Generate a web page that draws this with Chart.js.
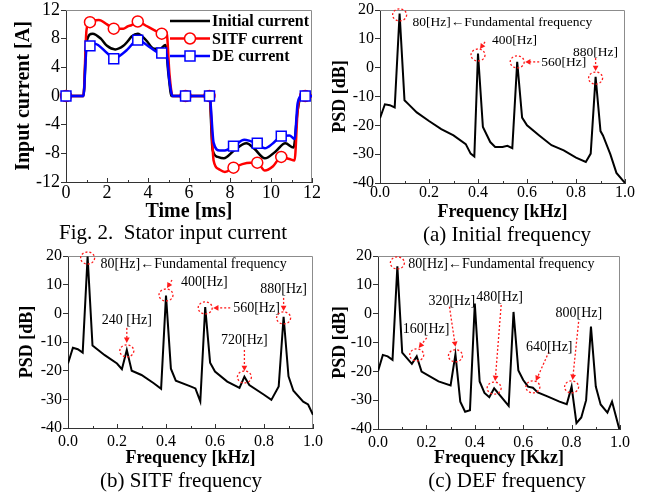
<!DOCTYPE html>
<html>
<head>
<meta charset="utf-8">
<script src="https://cdn.jsdelivr.net/npm/chart.js@4.4.0/dist/chart.umd.min.js"></script>
<style>
  body { margin: 0; background: #fff; }
  #quadro { position: relative; width: 664px; height: 492px; overflow: hidden; }
  #quadro canvas { position: absolute; }
  .legenda { position: absolute; font-family: 'Liberation Serif', 'Times New Roman', serif; font-size: 21px;
             line-height: 1; white-space: pre; color: #000; transform: translateX(-50%); }
</style>
</head>
<body>
<div id="quadro">
  <canvas id="graficoCorrente" width="330" height="222" style="left:0;top:0"></canvas>
  <canvas id="graficoInicial" width="334" height="222" style="left:330px;top:0"></canvas>
  <canvas id="graficoSitf" width="330" height="229" style="left:0;top:240px"></canvas>
  <canvas id="graficoDef" width="334" height="229" style="left:330px;top:240px"></canvas>
  <div class="legenda" style="left:173px;top:222px">Fig. 2.  Stator input current</div>
  <div class="legenda" style="left:507px;top:224px">(a) Initial frequency</div>
  <div class="legenda" style="left:181px;top:470px">(b) SITF frequency</div>
  <div class="legenda" style="left:507px;top:470px">(c) DEF frequency</div>
</div>
<script>
    // DADOS FIG. 2 (CORRENTE)

    const nomesCorrente = ['Initial current', 'SITF current', 'DE current']
    const tempoInicial = [0, 0.85, 1.0, 1.3, 1.7, 2.0, 2.4, 2.8, 3.0, 3.2, 3.5, 3.9, 4.3, 4.6, 4.85, 5.0, 5.15, 7.0, 7.15, 7.4, 7.7, 8.2, 8.8, 9.2, 9.7, 10.2, 10.7, 11.1, 11.3, 11.5, 12]
    const correnteInicial = [0, 0, 7.5, 8.7, 8.0, 7.0, 6.5, 7.0, 7.6, 8.3, 8.7, 7.8, 6.6, 6.6, 7.1, 3, 0, 0, -7.5, -8.5, -8.7, -7.6, -6.6, -7.4, -8.7, -7.8, -6.6, -7.2, -2, 0, 0]
    const tempoSitf = [0, 0.85, 1.0, 1.17, 1.6, 2.0, 2.33, 2.8, 3.0, 3.2, 3.5, 3.9, 4.3, 4.67, 4.9, 5.05, 5.2, 5.83, 7.0, 7.2, 7.45, 7.75, 8.17, 8.6, 9.0, 9.33, 9.7, 10.1, 10.5, 10.9, 11.15, 11.3, 11.5, 11.67, 12]
    const correnteSitf = [0, 0, 9.2, 10.3, 10.6, 10.0, 9.4, 9.4, 9.7, 9.9, 10.4, 9.8, 9.2, 8.7, 9.0, 3, 0, 0, 0, -9.0, -10.2, -10.6, -10.0, -9.5, -9.3, -9.3, -10.4, -9.8, -8.5, -8.8, -9.0, -2, 0, 0, 0]
    const tempoDe = [0, 0.85, 1.0, 1.17, 1.4, 2.0, 2.33, 2.8, 3.0, 3.5, 4.0, 4.4, 4.67, 4.9, 5.05, 5.2, 5.83, 7.0, 7.2, 7.5, 7.75, 8.17, 8.7, 9.0, 9.33, 9.7, 10.1, 10.5, 10.9, 11.15, 11.3, 11.5, 11.67, 12]
    const correnteDe = [0, 0, 6.5, 7.0, 7.3, 6.0, 5.2, 6.0, 6.5, 7.8, 7.0, 6.2, 6.0, 5.9, 2, 0, 0, 0, -6.5, -7.6, -7.6, -7.0, -6.1, -6.3, -6.6, -7.3, -6.6, -5.6, -5.5, -6.0, -1, 0, 0, 0]
    const tempoMarcadores = [0, 1.17, 2.33, 3.5, 4.67, 5.83, 7.0, 8.17, 9.33, 10.5, 11.67]

    // DADOS (a) INITIAL

    const freqInicial = [0, 0.02, 0.04, 0.06, 0.08, 0.10, 0.12, 0.15, 0.20, 0.25, 0.30, 0.35, 0.37, 0.385, 0.40, 0.42, 0.45, 0.47, 0.50, 0.52, 0.54, 0.56, 0.58, 0.60, 0.65, 0.70, 0.75, 0.80, 0.84, 0.86, 0.88, 0.90, 0.91, 0.94, 0.965, 0.99, 1.0]
    const psdInicial = [-17.5, -12.7, -13, -13.8, 18.8, -11.3, -13, -15.5, -18.5, -21.3, -23.5, -26.5, -29.8, -30.8, 4.9, -20.6, -25.8, -27.5, -27.5, -27.1, -27.9, 2.0, -17.3, -20, -23.5, -26.9, -28.7, -31.2, -32.7, -29.8, -3.2, -22, -23.5, -30, -36.5, -39, -40]
    const picosInicial = [0.08, 0.40, 0.56, 0.88]
    const niveisInicial = [18.3, 4.4, 2, -3.6]
    const textosInicial = ['80[Hz]\u2190Fundamental frequency', '400[Hz]', '560[Hz]', '880[Hz]']

    // DADOS (b) SITF

    const freqSitf = [0, 0.02, 0.04, 0.06, 0.08, 0.10, 0.15, 0.20, 0.22, 0.24, 0.26, 0.30, 0.35, 0.38, 0.40, 0.42, 0.44, 0.50, 0.52, 0.54, 0.56, 0.58, 0.60, 0.65, 0.70, 0.72, 0.74, 0.80, 0.83, 0.86, 0.88, 0.90, 0.92, 0.96, 0.98, 1.0]
    const psdSitf = [-17.5, -12, -12.5, -13.7, 19.8, -11.2, -14.6, -17.5, -19.5, -12.8, -20, -21.5, -24.4, -26.3, 6.2, -19.3, -23.5, -25.5, -26.2, -30.7, 2.2, -17.2, -20.3, -23.8, -26, -22.1, -25, -28.4, -30.2, -25.5, -1.2, -22, -27, -30.8, -31.8, -35.4]
    const picosSitf = [0.08, 0.24, 0.40, 0.56, 0.72, 0.88]
    const niveisSitf = [19.3, -13.1, 6.4, 1.9, -22.2, -1.6]
    const textosSitf = ['80[Hz]\u2190Fundamental frequency', '240 [Hz]', '400[Hz]', '560[Hz]', '720[Hz]', '880[Hz]']

    // DADOS (c) DEF

    const freqDef = [0, 0.02, 0.04, 0.06, 0.08, 0.10, 0.14, 0.16, 0.18, 0.25, 0.30, 0.32, 0.34, 0.36, 0.38, 0.40, 0.42, 0.44, 0.46, 0.48, 0.54, 0.56, 0.58, 0.60, 0.62, 0.64, 0.66, 0.70, 0.75, 0.78, 0.80, 0.82, 0.84, 0.86, 0.88, 0.90, 0.92, 0.948, 0.967, 0.997]
    const psdDef = [-20, -14.3, -14.8, -16, 16.4, -13.5, -17.4, -14.8, -20.1, -23.5, -24.9, -14.1, -30.5, -34, -33.5, 3.5, -23.5, -27.5, -29, -25.9, -32, 0.6, -19.7, -23, -25.3, -25.7, -27.3, -28.7, -30.5, -31.4, -25.3, -38, -36, -30, -4.5, -25.3, -31.5, -34.3, -30.5, -40]
    const picosDef = [0.08, 0.16, 0.32, 0.48, 0.64, 0.80]
    const niveisDef = [17.6, -14.3, -14.6, -25.8, -25.4, -25.4]
    const textosDef = ['80[Hz]\u2190Fundamental frequency', '160[Hz]', '320[Hz]', '480[Hz]', '640[Hz]', '800[Hz]']


    Chart.defaults.font.family = "'Liberation Serif', 'Times New Roman', serif";
    Chart.defaults.color = '#000';
    Chart.defaults.animation = false;
    Chart.defaults.plugins.legend.display = false;
    Chart.defaults.plugins.tooltip.enabled = false;

    function pares(xs, ys) {
        return xs.map((x, i) => ({ x: x, y: ys[i] }))
    }

    // moldura cinza em cima/direita + ticks do eixo x para dentro
    var molduraPlugin = {
        id: 'moldura',
        beforeDatasetsDraw(chart) {
            const { ctx, chartArea: a, scales: { x } } = chart;
            ctx.save();
            ctx.strokeStyle = '#8c8c8c';
            ctx.lineWidth = 1;
            ctx.beginPath();
            ctx.moveTo(a.left, a.top + 0.5);
            ctx.lineTo(a.right - 0.5, a.top + 0.5);
            ctx.lineTo(a.right - 0.5, a.bottom);
            ctx.stroke();
            ctx.strokeStyle = '#333';
            const t = x.ticks;
            t.forEach((tk, i) => {
                const px = Math.round(x.getPixelForValue(tk.value)) + 0.5;
                ctx.beginPath(); ctx.moveTo(px, a.bottom); ctx.lineTo(px, a.bottom - 4); ctx.stroke();
                if (i < t.length - 1) {
                    const pm = Math.round(x.getPixelForValue((tk.value + t[i + 1].value) / 2)) + 0.5;
                    ctx.beginPath(); ctx.moveTo(pm, a.bottom); ctx.lineTo(pm, a.bottom - 2); ctx.stroke();
                }
            });
            ctx.restore();
        }
    };

    // circulos vermelhos, setas pontilhadas e textos dos picos
    var notasPlugin = {
        id: 'notas',
        afterDatasetsDraw(chart, args, o) {
            if (!o.picos) return;
            const { ctx, scales: { x, y } } = chart;
            ctx.save();
            o.picos.forEach((f, i) => {
                const cx = x.getPixelForValue(f), cy = y.getPixelForValue(o.niveis[i]);
                const p = o.lugares[i];
                ctx.strokeStyle = '#ff1a1a';
                ctx.fillStyle = '#ff1a1a';
                ctx.lineWidth = 1.3;
                ctx.setLineDash([2, 2]);
                ctx.beginPath();
                ctx.ellipse(cx, cy, 7, 6, 0, 0, 2 * Math.PI);
                ctx.stroke();
                if (p.seta) {
                    const [x1, y1, x2, y2] = p.seta;
                    const ang = Math.atan2(y2 - y1, x2 - x1);
                    ctx.beginPath();
                    ctx.moveTo(cx + x1, cy + y1);
                    ctx.lineTo(cx + x2 - 3 * Math.cos(ang), cy + y2 - 3 * Math.sin(ang));
                    ctx.stroke();
                    ctx.setLineDash([]);
                    ctx.beginPath();
                    ctx.moveTo(cx + x2, cy + y2);
                    ctx.lineTo(cx + x2 - 6 * Math.cos(ang - 0.5), cy + y2 - 6 * Math.sin(ang - 0.5));
                    ctx.lineTo(cx + x2 - 6 * Math.cos(ang + 0.5), cy + y2 - 6 * Math.sin(ang + 0.5));
                    ctx.closePath();
                    ctx.fill();
                }
                ctx.setLineDash([]);
                ctx.fillStyle = '#000';
                ctx.font = o.fonte;
                ctx.textAlign = p.alinha || 'left';
                ctx.textBaseline = 'middle';
                ctx.fillText(o.textos[i], cx + p.dx, cy + p.dy);
            });
            ctx.restore();
        }
    };

    // legenda desenhada dentro da area do grafico
    var legendaPlugin = {
        id: 'legendaCorrente',
        afterDraw(chart, args, o) {
            const { ctx, chartArea: a } = chart;
            ctx.save();
            chart.data.datasets.forEach((ds, i) => {
                const y = a.top + o.topo + i * o.passo;
                const x0 = a.right - o.direita;
                ctx.strokeStyle = ds.borderColor;
                ctx.lineWidth = 2.5;
                ctx.beginPath(); ctx.moveTo(x0, y); ctx.lineTo(x0 + 40, y); ctx.stroke();
                ctx.lineWidth = 1.5;
                if (ds.pointStyle === 'circle') {
                    ctx.fillStyle = '#fff';
                    ctx.beginPath(); ctx.arc(x0 + 20, y, 5.5, 0, 2 * Math.PI); ctx.fill(); ctx.stroke();
                } else if (ds.pointStyle === 'rect') {
                    ctx.fillStyle = '#fff';
                    ctx.fillRect(x0 + 15, y - 5, 10, 10); ctx.strokeRect(x0 + 15, y - 5, 10, 10);
                }
                ctx.fillStyle = '#000';
                ctx.font = 'bold 16px "Liberation Serif", serif';
                ctx.textAlign = 'left';
                ctx.textBaseline = 'middle';
                ctx.fillText(ds.label, x0 + 42, y + 1);
            });
            ctx.restore();
        }
    };

    function marcador(raio) {
        return ctx => tempoMarcadores.includes(ctx.raw.x) ? raio : 0
    }


    // GRÁFICO CORRENTE

    var ctxCorrente = document.getElementById('graficoCorrente').getContext('2d');

    var graficoCorrente = new Chart(ctxCorrente, {
        type: 'line',
        data: {
            datasets: [
                {
                    label: nomesCorrente[0],
                    data: pares(tempoInicial, correnteInicial),
                    borderColor: '#000',
                    borderWidth: 2.5,
                    pointRadius: 0,
                    cubicInterpolationMode: 'monotone',
                    order: 2,
                    clip: false
                },
                {
                    label: nomesCorrente[1],
                    data: pares(tempoSitf, correnteSitf),
                    borderColor: '#ff0000',
                    borderWidth: 2.5,
                    pointStyle: 'circle',
                    pointRadius: marcador(5.5),
                    pointBackgroundColor: '#fff',
                    pointBorderColor: '#ff0000',
                    pointBorderWidth: 1.5,
                    cubicInterpolationMode: 'monotone',
                    order: 1,
                    clip: false
                },
                {
                    label: nomesCorrente[2],
                    data: pares(tempoDe, correnteDe),
                    borderColor: '#0000ff',
                    borderWidth: 2.5,
                    pointStyle: 'rect',
                    pointRadius: marcador(7),
                    pointBackgroundColor: '#fff',
                    pointBorderColor: '#0000ff',
                    pointBorderWidth: 1.5,
                    cubicInterpolationMode: 'monotone',
                    order: 0,
                    clip: false
                }
            ]
        },
        options: {
            responsive: false,
            devicePixelRatio: 1,
            layout: { padding: { top: 9, right: 18, left: 0, bottom: 0 } },
            scales: {
                x: {
                    type: 'linear', min: 0, max: 12,
                    ticks: { stepSize: 2, font: { size: 18, lineHeight: 1 }, padding: 2, maxRotation: 0 },
                    grid: { display: false, drawTicks: false, tickLength: 0 },
                    border: { color: '#333' },
                    title: { display: true, text: 'Time [ms]', font: { size: 20, weight: 'bold', lineHeight: 1.0 }, padding: 0 },
                    afterFit: s => { s.height = 40 }
                },
                y: {
                    min: -12, max: 12,
                    ticks: { stepSize: 4, font: { size: 18, lineHeight: 1 }, padding: 1 },
                    grid: { drawOnChartArea: false, tickLength: 5, color: '#333' },
                    border: { color: '#333' },
                    title: { display: true, text: 'Input current [A]', font: { size: 20, weight: 'bold', lineHeight: 1.2 }, padding: { top: 12, bottom: 0 } },
                    afterFit: s => { s.width = 66 }
                }
            },
            plugins: {
                legendaCorrente: { topo: 11, passo: 17.5, direita: 142 }
            }
        },
        plugins: [molduraPlugin, legendaPlugin]
    });


    // GRÁFICOS PSD

    function opcoesPsd(c) {
        return {
            responsive: false,
            devicePixelRatio: 1,
            layout: { padding: { top: c.topo, right: c.direita, left: 0, bottom: 0 } },
            scales: {
                x: {
                    type: 'linear', min: 0, max: 1,
                    ticks: { stepSize: 0.2, font: { size: 16, lineHeight: 1 }, padding: c.padX, maxRotation: 0, callback: v => v.toFixed(1) },
                    grid: { display: false, drawTicks: false, tickLength: 0 },
                    border: { color: '#333' },
                    title: { display: true, text: c.tituloX, font: { size: 18, weight: 'bold', lineHeight: c.alturaTitulo }, padding: 0 },
                    afterFit: s => { s.height = c.alturaX }
                },
                y: {
                    min: -40, max: 20,
                    ticks: { stepSize: 10, font: { size: 16, lineHeight: 1 }, padding: 1 },
                    grid: { drawOnChartArea: false, tickLength: 5, color: '#333' },
                    border: { color: '#333' },
                    title: { display: true, text: 'PSD [dB]', font: { size: 18, weight: 'bold', lineHeight: 1.1 }, padding: { top: c.padTituloY, bottom: 0 } },
                    afterFit: s => { s.width = c.larguraY }
                }
            },
            plugins: {
                notas: c.notas
            }
        }
    }

    function serie(xs, ys) {
        return {
            datasets: [
                {
                    data: pares(xs, ys),
                    borderColor: '#000',
                    borderWidth: 2,
                    pointRadius: 0,
                    tension: 0
                }
            ]
        }
    }

    // (a) Initial frequency
    var ctxInicial = document.getElementById('graficoInicial').getContext('2d');
    var graficoInicial = new Chart(ctxInicial, {
        type: 'line',
        data: serie(freqInicial, psdInicial),
        options: opcoesPsd({
            topo: 10, direita: 39, larguraY: 50, alturaX: 39, padX: 2, alturaTitulo: 1.1,
            tituloX: 'Frequency [kHz]', padTituloY: 0,
            notas: {
                picos: picosInicial, niveis: niveisInicial, textos: textosInicial,
                fonte: '13.5px "Liberation Serif", serif',
                lugares: [
                    { dx: 13, dy: 8 },
                    { dx: 14, dy: -15, seta: [7, -13, 2, -6] },
                    { dx: 24, dy: 1, seta: [22, 0, 8, 0] },
                    { dx: 0, dy: -26, alinha: 'center', seta: [0, -20, 0, -7] }
                ]
            }
        }),
        plugins: [molduraPlugin, notasPlugin]
    });

    // (b) SITF frequency
    var ctxSitf = document.getElementById('graficoSitf').getContext('2d');
    var graficoSitf = new Chart(ctxSitf, {
        type: 'line',
        data: serie(freqSitf, psdSitf),
        options: opcoesPsd({
            topo: 16, direita: 17, larguraY: 68, alturaX: 41, padX: 6, alturaTitulo: 1.2,
            tituloX: 'Frequency [kHz]', padTituloY: 17,
            notas: {
                picos: picosSitf, niveis: niveisSitf, textos: textosSitf,
                fonte: '14px "Liberation Serif", serif',
                lugares: [
                    { dx: 13, dy: 6 },
                    { dx: 0, dy: -31, alinha: 'center', seta: [0, -23, 0, -8] },
                    { dx: 15, dy: -13, seta: [6, -15, 1, -7] },
                    { dx: 28, dy: 0, seta: [25, 0, 8, 0] },
                    { dx: 0, dy: -37, alinha: 'center', seta: [0, -27, 0, -6] },
                    { dx: 0, dy: -29, alinha: 'center', seta: [0, -20, 0, -7] }
                ]
            }
        }),
        plugins: [molduraPlugin, notasPlugin]
    });

    // (c) DEF frequency
    var ctxDef = document.getElementById('graficoDef').getContext('2d');
    var graficoDef = new Chart(ctxDef, {
        type: 'line',
        data: serie(freqDef, psdDef),
        options: opcoesPsd({
            topo: 16, direita: 44, larguraY: 48, alturaX: 40, padX: 6, alturaTitulo: 1.2,
            tituloX: 'Frequency [Kkz]', padTituloY: 0,
            notas: {
                picos: picosDef, niveis: niveisDef, textos: textosDef,
                fonte: '14px "Liberation Serif", serif',
                lugares: [
                    { dx: 11, dy: 1 },
                    { dx: -14, dy: -26, seta: [10, -17, 2, -7] },
                    { dx: -27, dy: -54, seta: [-6, -49, 0, -9] },
                    { dx: -18, dy: -91, seta: [7, -83, 1, -7] },
                    { dx: -7, dy: -40, seta: [16, -35, 3, -6] },
                    { dx: -16, dy: -74, seta: [7, -65, 1, -7] }
                ]
            }
        }),
        plugins: [molduraPlugin, notasPlugin]
    });
</script>
</body>
</html>
